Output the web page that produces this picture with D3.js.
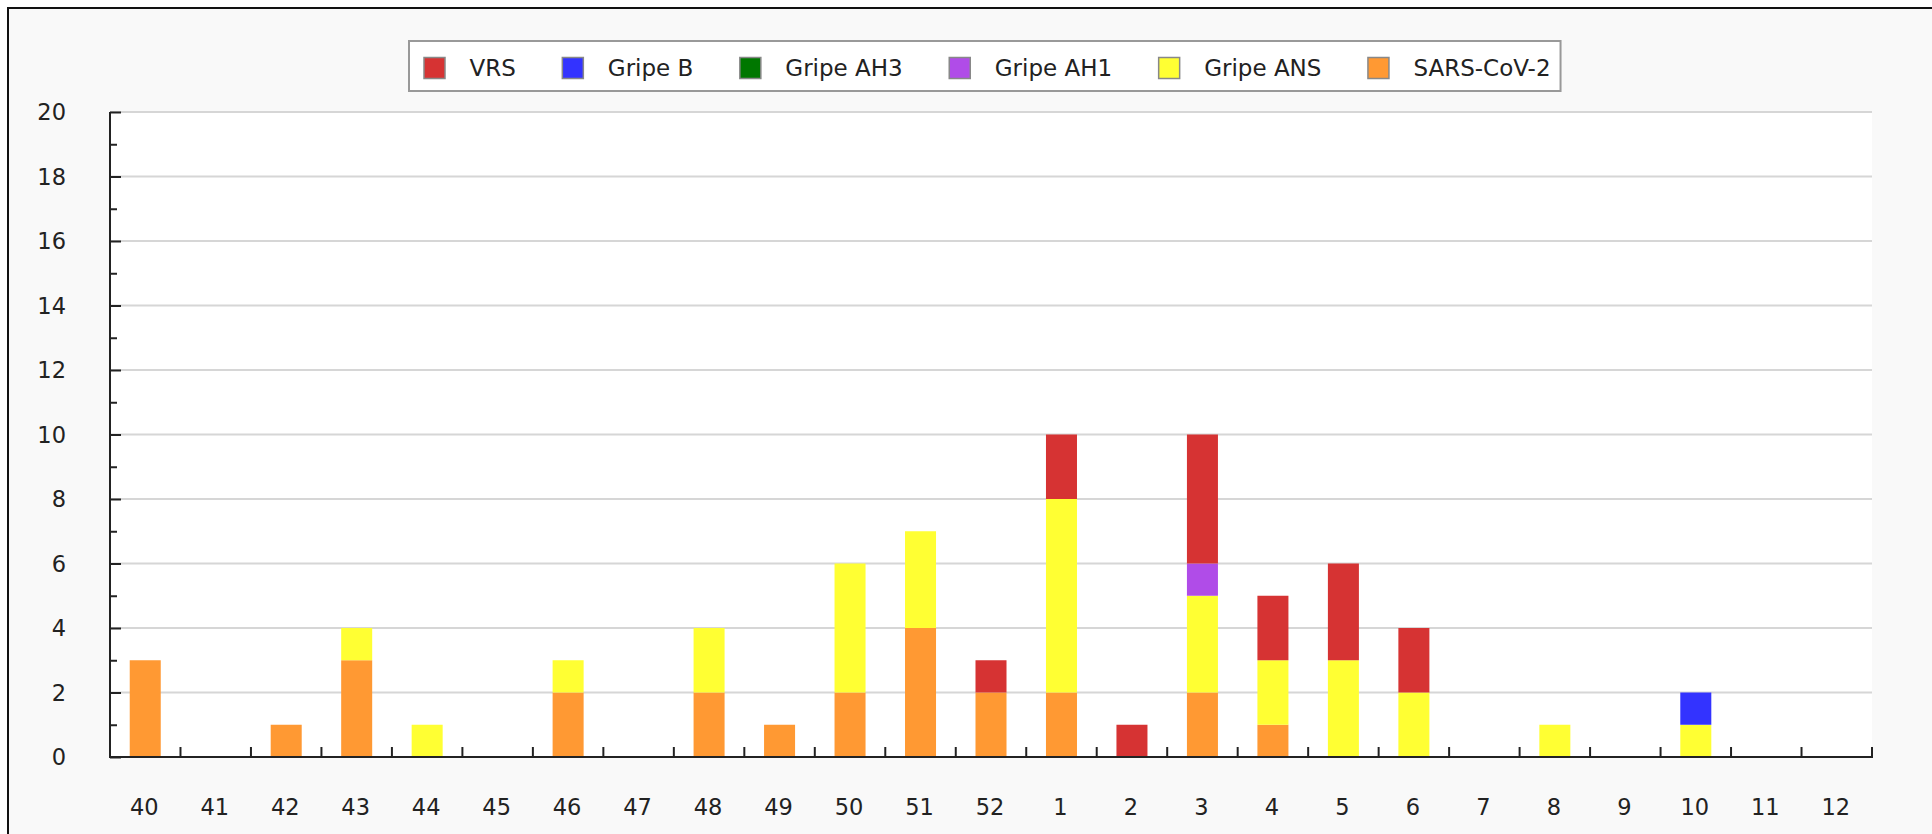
<!DOCTYPE html>
<html>
<head>
<meta charset="utf-8">
<script src="https://cdn.jsdelivr.net/npm/d3@7"></script>
<style>
  html, body { margin: 0; padding: 0; background: #ffffff; }
  svg { display: block; font-family: "DejaVu Sans", sans-serif; }
</style>
</head>
<body>
<svg id="chart" width="1932" height="834"></svg>
<script>
// ---- data ----
const weeks = ["40","41","42","43","44","45","46","47","48","49","50","51","52","1","2","3","4","5","6","7","8","9","10","11","12"];
const seriesNames = ["VRS", "Gripe B", "Gripe AH3", "Gripe AH1", "Gripe ANS", "SARS-CoV-2"];
const seriesColors = ["#d63333", "#3333ff", "#007700", "#b04ce8", "#ffff33", "#ff9933"];
const vrs      = [0,0,0,0,0,0,0,0,0,0,0,0,1,2,1,4,2,3,2,0,0,0,0,0,0];
const gripeB   = [0,0,0,0,0,0,0,0,0,0,0,0,0,0,0,0,0,0,0,0,0,0,1,0,0];
const gripeAH3 = [0,0,0,0,0,0,0,0,0,0,0,0,0,0,0,0,0,0,0,0,0,0,0,0,0];
const gripeAH1 = [0,0,0,0,0,0,0,0,0,0,0,0,0,0,0,1,0,0,0,0,0,0,0,0,0];
const gripeANS = [0,0,0,1,1,0,1,0,2,0,4,3,0,6,0,3,2,3,2,0,1,0,1,0,0];
const sarsCov2 = [3,0,1,3,0,0,2,0,2,1,2,4,2,2,0,2,1,0,0,0,0,0,0,0,0];
const yTicks = [0,2,4,6,8,10,12,14,16,18,20];
const yMax = 20;

// stacking order bottom -> top
const stackOrder = ["SARS-CoV-2", "Gripe ANS", "Gripe AH1", "Gripe AH3", "Gripe B", "VRS"];
const valuesByName = {
  "VRS": vrs, "Gripe B": gripeB, "Gripe AH3": gripeAH3,
  "Gripe AH1": gripeAH1, "Gripe ANS": gripeANS, "SARS-CoV-2": sarsCov2
};
const colorOf = d3.scaleOrdinal().domain(seriesNames).range(seriesColors);

const rows = weeks.map((w, i) => {
  const r = { week: w };
  seriesNames.forEach(n => r[n] = valuesByName[n][i]);
  return r;
});

// ---- layout ----
const svg = d3.select("#chart");
const W = 1932, H = 834;
const plot = { left: 110, right: 1872, top: 112, bottom: 757 };
const FONT = 22.5;
const LFONT = 23;
const textColor = "#222";

// outer frame
svg.append("rect").attr("x", 0).attr("y", 0).attr("width", W).attr("height", H).attr("fill", "#ffffff");
svg.append("rect").attr("x", 8).attr("y", 8).attr("width", W + 20).attr("height", H + 20)
  .attr("fill", "#f9f9f9").attr("stroke", "#111").attr("stroke-width", 2);

// plot background
svg.append("rect").attr("x", plot.left).attr("y", plot.top)
  .attr("width", plot.right - plot.left).attr("height", plot.bottom - plot.top)
  .attr("fill", "#ffffff");

const x = d3.scaleBand().domain(weeks).range([plot.left, plot.right]).padding(0);
const y = d3.scaleLinear().domain([0, yMax]).range([plot.bottom, plot.top]);

// gridlines
svg.append("g").selectAll("line").data(yTicks.filter(v => v > 0)).join("line")
  .attr("x1", plot.left).attr("x2", plot.right)
  .attr("y1", d => y(d)).attr("y2", d => y(d))
  .attr("stroke", "#d6d6d6").attr("stroke-width", 2);

// bars
const stack = d3.stack().keys(stackOrder);
const layers = stack(rows);
const barW = x.bandwidth() * 0.44;
svg.append("g").selectAll("g").data(layers).join("g")
  .attr("fill", d => colorOf(d.key))
  .selectAll("rect").data(d => d.filter(s => s[1] - s[0] > 0)).join("rect")
  .attr("x", d => x(d.data.week) + (x.bandwidth() - barW) / 2)
  .attr("width", barW)
  .attr("y", d => y(d[1]))
  .attr("height", d => y(d[0]) - y(d[1]));

// y axis
const yAxis = d3.axisRight(y).tickValues(d3.range(0, yMax + 1, 1)).tickSize(0).tickFormat("");
const gy = svg.append("g").attr("transform", `translate(${plot.left},0)`).call(yAxis);
gy.select(".domain").remove();
gy.selectAll(".tick line").remove();
gy.selectAll(".tick").append("line")
  .attr("x1", 0).attr("x2", d => d % 2 === 0 ? 11 : 7)
  .attr("stroke", "#222").attr("stroke-width", 2);
svg.append("line").attr("x1", plot.left).attr("x2", plot.left)
  .attr("y1", plot.top).attr("y2", plot.bottom + 1)
  .attr("stroke", "#222").attr("stroke-width", 2);

// y labels
svg.append("g").selectAll("text").data(yTicks).join("text")
  .attr("x", 66).attr("y", d => y(d)).attr("dy", "0.36em")
  .attr("text-anchor", "end").attr("font-size", FONT).attr("fill", textColor)
  .text(d => d);

// x axis
const boundaries = weeks.map(w => x(w) + x.bandwidth());
svg.append("g").selectAll("line").data(boundaries).join("line")
  .attr("x1", d => d).attr("x2", d => d)
  .attr("y1", plot.bottom).attr("y2", plot.bottom - 10)
  .attr("stroke", "#222").attr("stroke-width", 2);
svg.append("line").attr("x1", plot.left - 1).attr("x2", plot.right + 1)
  .attr("y1", plot.bottom).attr("y2", plot.bottom)
  .attr("stroke", "#222").attr("stroke-width", 2);

svg.append("g").selectAll("text").data(weeks).join("text")
  .attr("x", d => x(d) + x.bandwidth() / 2 - 1).attr("y", 807).attr("dy", "0.36em")
  .attr("text-anchor", "middle").attr("font-size", FONT).attr("fill", textColor)
  .text(d => d);

// legend
const lg = svg.append("g");
const legBox = lg.append("rect").attr("x", 409).attr("y", 41).attr("height", 50)
  .attr("fill", "#ffffff").attr("stroke", "#999").attr("stroke-width", 2);
let cx = 424;
seriesNames.forEach((name, i) => {
  lg.append("rect").attr("x", cx).attr("y", 57.5).attr("width", 21).attr("height", 21)
    .attr("fill", colorOf(name)).attr("stroke", "#888").attr("stroke-width", 1.5);
  const t = lg.append("text").attr("x", cx + 45.5).attr("y", 68).attr("dy", "0.36em")
    .attr("font-size", LFONT).attr("fill", textColor).text(name);
  const tw = t.node().getComputedTextLength();
  cx = cx + 45.5 + tw + (i < seriesNames.length - 1 ? 46.5 : 10);
});
legBox.attr("width", cx - 409);
</script>
</body>
</html>
